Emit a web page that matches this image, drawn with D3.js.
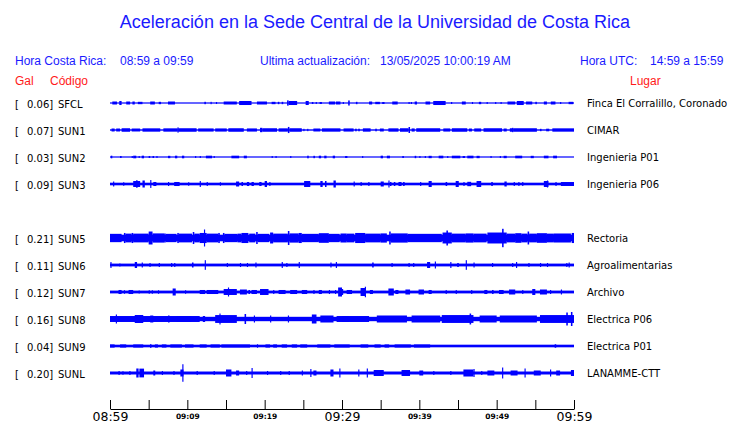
<!DOCTYPE html>
<html><head><meta charset="utf-8">
<script src="https://cdn.jsdelivr.net/npm/d3@7"></script>
<style>html,body{margin:0;padding:0;background:#fff;}svg{display:block;}</style>
</head><body>
<script>
// ---------- data ----------
const titleText = "Aceleración en la Sede Central de la Universidad de Costa Rica";
const localRange = "08:59 a 09:59";
const utcRange = "14:59 a 15:59";
const updated = "13/05/2025 10:00:19 AM";
const codes = ["SFCL","SUN1","SUN2","SUN3","SUN4","SUN5","SUN6","SUN7","SUN8","SUN9","SUNL"];
const peaks = {SFCL:0.06,SUN1:0.07,SUN2:0.03,SUN3:0.09,SUN5:0.21,SUN6:0.11,SUN7:0.12,SUN8:0.16,SUN9:0.04,SUNL:0.20};
const places = {SFCL:"Finca El Corralillo, Coronado",SUN1:"CIMAR",SUN2:"Ingenieria P01",SUN3:"Ingenieria P06",SUN5:"Rectoria",SUN6:"Agroalimentarias",SUN7:"Archivo",SUN8:"Electrica P06",SUN9:"Electrica P01",SUNL:"LANAMME-CTT"};
// background noise half-amplitude (Gal)
const baseAmp = {SFCL:0.008,SUN1:0.016,SUN2:0.008,SUN3:0.03,SUN5:0.075,SUN6:0.032,SUN7:0.032,SUN8:0.05,SUN9:0.03,SUNL:0.034};
// bursts: [start minute, end minute, half-amplitude Gal]
const bursts = {
SFCL:[[0.3,0.9,.034],[1.2,1.5,.046],[2.1,2.6,.034],[2.9,3.2,.034],[3.6,4.2,.027],[5.2,5.8,.034],[6.3,6.6,.027],[7.5,8.4,.034],[12.2,12.4,.027],[13.0,13.15,.027],[13.7,13.85,.023],[14.7,16.4,.034],[16.7,18.3,.046],[19.0,20.3,.034],[20.9,21.4,.027],[21.7,21.9,.027],[22.2,22.4,.027],[22.9,23.1,.06],[23.1,24.2,.046],[25.3,25.7,.046],[26.1,26.3,.023],[26.6,26.75,.023],[27.1,27.4,.023],[28.3,29.1,.034],[29.2,29.8,.034],[30.1,30.25,.023],[30.8,31.0,.058],[31.8,32.0,.027],[33.5,33.9,.034],[34.3,34.9,.027],[35.2,35.5,.023],[36.5,37.2,.034],[38.6,38.75,.023],[38.9,39.05,.023],[39.4,39.7,.034],[40.8,41.4,.034],[41.8,43.4,.046],[44.1,44.25,.023],[45.5,46.0,.034],[46.8,46.95,.023],[47.7,48.0,.027],[48.7,48.85,.023],[49.8,49.95,.023],[50.5,50.65,.023],[51.4,52.4,.034],[52.6,53.5,.046],[53.8,54.6,.034],[55.0,55.2,.027],[56.1,56.5,.034],[57.0,57.6,.034],[58.2,58.35,.023],[59.3,59.9,.027]],
SUN1:[[0.2,0.6,.034],[0.8,1.3,.034],[1.5,2.6,.04],[2.8,3.9,.034],[4.2,6.5,.038],[6.9,8.7,.038],[8.7,8.9,.057],[8.9,11.2,.04],[11.4,13.4,.036],[13.6,15.1,.036],[15.3,17.3,.04],[17.7,19.0,.036],[19.4,19.7,.05],[19.7,21.6,.04],[21.8,23.0,.038],[23.0,23.2,.07],[23.2,24.8,.04],[25.0,25.15,.027],[25.5,25.65,.027],[26.3,27.2,.034],[27.4,29.8,.038],[30.2,31.5,.036],[31.7,31.9,.03],[32.1,32.3,.03],[32.7,33.7,.038],[34.3,34.5,.03],[34.9,35.4,.034],[36.0,37.3,.038],[37.5,38.6,.04],[38.6,38.8,.068],[39.0,39.4,.036],[39.6,42.7,.04],[43.1,44.0,.036],[44.2,46.2,.04],[46.4,46.8,.034],[47.1,48.0,.036],[48.3,50.7,.04],[50.9,51.3,.034],[51.7,52.2,.04],[52.0,52.15,.05],[52.2,55.2,.04],[55.6,55.8,.027],[56.4,56.8,.03],[57.2,60.0,.038]],
SUN2:[[0.1,0.3,.03],[1.3,1.5,.023],[2.8,2.95,.023],[3.0,3.4,.03],[3.7,3.85,.023],[4.1,4.4,.03],[5.0,5.2,.023],[5.5,5.7,.023],[6.0,6.15,.023],[7.5,7.8,.027],[8.4,8.7,.03],[9.3,9.6,.03],[11.0,11.15,.023],[11.6,11.75,.023],[12.4,13.2,.03],[13.4,13.55,.023],[15.7,16.7,.03],[17.3,17.7,.03],[20.9,21.05,.023],[21.4,21.55,.023],[23.3,23.45,.023],[25.5,25.7,.03],[26.3,26.5,.027],[27.0,27.3,.03],[27.7,28.0,.03],[28.8,29.1,.03],[30.4,30.7,.023],[32.6,32.75,.023],[35.0,35.3,.03],[35.8,36.2,.03],[37.8,38.0,.023],[39.4,39.6,.027],[40.0,40.15,.023],[40.7,40.85,.023],[41.2,41.6,.027],[42.5,43.1,.03],[43.6,43.75,.023],[44.2,45.3,.03],[45.6,45.9,.023],[46.2,47.0,.03],[47.4,47.8,.027],[49.2,49.35,.023],[50.4,50.55,.023],[50.9,51.3,.027],[52.4,53.3,.03],[54.4,54.8,.027],[56.1,56.7,.03],[57.3,57.8,.03]],
SUN3:[[0.4,0.55,.057],[1.7,1.85,.04],[3.0,3.9,.068],[3.4,3.55,.09],[4.2,4.5,.08],[5.2,5.35,.09],[5.6,6.0,.046],[7.5,7.65,.046],[8.3,9.0,.046],[10.1,10.25,.04],[11.6,11.75,.068],[12.5,12.65,.046],[14.2,14.35,.04],[16.3,16.7,.057],[17.0,17.2,.046],[17.7,18.0,.046],[18.3,18.6,.046],[19.3,19.6,.046],[20.0,20.3,.068],[20.6,20.75,.046],[25.1,25.9,.068],[27.2,27.5,.068],[27.8,28.0,.068],[28.9,29.2,.08],[31.5,31.65,.057],[32.4,32.55,.046],[33.4,33.55,.046],[35.0,35.4,.057],[36.0,36.15,.08],[36.2,36.4,.046],[36.7,36.9,.046],[37.3,37.7,.046],[37.9,38.1,.046],[40.1,40.25,.046],[41.2,41.6,.068],[43.4,43.6,.046],[44.7,45.1,.068],[45.7,45.85,.046],[46.2,46.7,.05],[47.4,48.0,.068],[49.3,49.5,.046],[51.0,51.3,.057],[52.2,52.35,.046],[52.8,52.95,.046],[53.3,53.45,.046],[56.1,56.7,.068],[56.5,56.65,.08],[57.6,57.75,.046],[58.3,60.0,.045]],
SUN5:[[0,1.5,.095],[1.8,2.0,.115],[2.0,2.8,.1],[2.8,3.0,.115],[3.0,5.0,.1],[5.0,5.5,.148],[5.5,7.0,.105],[7.0,7.2,.103],[7.2,8.6,.095],[8.7,8.9,.115],[8.9,10.6,.1],[10.7,10.9,.137],[10.9,11.6,.1],[11.6,12.5,.115],[12.15,12.3,.194],[12.5,14.0,.1],[14.0,14.2,.115],[14.6,14.8,.115],[14.8,16.5,.095],[16.5,17.0,.1],[17.0,17.9,.115],[18.0,18.8,.1],[18.9,19.1,.137],[19.1,20.6,.095],[20.7,21.1,.125],[21.1,23.0,.1],[23.0,23.2,.16],[23.2,24.4,.105],[24.4,24.8,.115],[24.8,27.0,.095],[27.0,28.3,.11],[28.3,29.7,.095],[29.8,30.6,.103],[30.6,31.6,.1],[31.7,33.0,.115],[33.0,35.0,.1],[35.0,35.8,.105],[36.1,36.3,.148],[36.3,38.5,.105],[38.5,42.9,.095],[43.0,44.2,.125],[43.5,43.7,.171],[44.2,46.0,.1],[46.0,47.0,.105],[47.0,48.7,.1],[48.8,51.3,.125],[50.7,50.9,.21],[51.3,52.4,.1],[52.4,53.2,.11],[53.2,54.0,.1],[54.0,54.2,.148],[54.2,55.2,.1],[55.2,56.5,.11],[56.5,57.4,.1],[57.4,59.6,.103],[59.7,60.0,.115]],
SUN6:[[0.05,0.2,.068],[1.2,1.35,.034],[3.2,3.5,.068],[4.1,4.25,.057],[5.1,5.25,.046],[6.3,6.45,.046],[7.9,8.05,.046],[8.3,8.45,.046],[10.6,10.8,.057],[12.25,12.4,.11],[15.1,15.25,.046],[16.8,16.95,.046],[17.7,17.85,.046],[18.8,18.95,.057],[22.2,22.35,.068],[22.8,22.95,.046],[24.4,24.55,.068],[28.5,28.65,.057],[29.2,29.35,.068],[33.9,34.1,.057],[36.4,36.55,.046],[38.6,38.75,.046],[39.2,39.35,.046],[41.0,41.4,.068],[42.0,42.15,.08],[44.0,44.15,.068],[44.9,45.1,.046],[46.0,46.15,.11],[47.0,47.15,.057],[49.4,49.55,.046],[52.0,52.15,.046],[52.5,52.65,.068],[54.1,54.25,.046],[55.6,55.75,.046],[56.5,56.65,.046],[59.0,59.15,.046],[59.3,59.45,.057]],
SUN7:[[1.1,1.5,.046],[1.8,1.95,.04],[2.4,3.0,.046],[3.7,3.85,.034],[5.0,5.15,.04],[5.4,5.55,.04],[6.2,6.35,.04],[8.1,8.5,.08],[9.7,9.85,.04],[11.6,12.3,.046],[12.5,14.0,.046],[14.7,16.4,.068],[15.25,15.4,.103],[16.8,17.7,.057],[17.9,18.1,.046],[18.3,19.0,.046],[19.4,20.5,.068],[21.1,21.25,.046],[21.8,22.7,.046],[23.3,24.2,.046],[24.8,25.5,.046],[26.3,26.45,.046],[27.0,27.4,.046],[28.3,28.45,.046],[29.1,29.25,.046],[29.5,30.0,.103],[30.0,30.15,.068],[30.6,31.3,.046],[32.4,33.0,.091],[32.95,33.1,.12],[33.6,34.0,.046],[36.0,36.7,.08],[36.9,37.3,.046],[38.2,38.8,.057],[39.9,40.6,.057],[41.2,41.6,.046],[43.4,43.55,.046],[44.7,44.85,.046],[46.7,46.85,.046],[48.4,48.8,.046],[49.4,49.6,.046],[50.3,50.9,.046],[51.6,52.4,.057],[53.3,53.45,.046],[54.6,55.0,.068],[55.6,56.5,.057],[56.9,57.05,.046],[58.3,58.45,.057]],
SUN8:[[0,10.5,.068],[0.75,0.9,.103],[3.2,4.3,.091],[5.2,5.6,.08],[7.5,7.7,.08],[8.6,11.6,.068],[12.0,12.3,.068],[13.6,16.4,.09],[14.15,14.3,.125],[17.4,17.6,.114],[18.6,18.75,.08],[20.7,20.85,.08],[23.0,23.15,.08],[26.1,26.7,.103],[27.2,28.9,.08],[29.3,30.9,.068],[30.0,33.5,.068],[34.5,38.4,.08],[39.0,42.7,.08],[42.9,47.0,.09],[46.5,46.7,.125],[47.8,50.0,.08],[50.4,55.2,.08],[55.6,60.0,.09],[59.0,59.2,.148],[59.6,59.8,.16]],
SUN9:[[0.0,0.6,.036],[1.3,2.1,.036],[3.0,4.3,.036],[5.2,5.35,.046],[5.8,6.2,.036],[6.7,7.3,.036],[7.8,9.3,.036],[9.7,10.8,.036],[11.6,12.5,.036],[13.0,14.2,.036],[14.4,18.1,.036],[19.0,19.15,.04],[20.1,20.7,.036],[21.1,21.6,.036],[22.2,22.9,.036],[23.5,24.2,.036],[24.6,25.5,.036],[26.8,28.5,.036],[29.0,31.0,.036],[32.4,33.4,.036],[34.2,35.0,.036],[35.5,36.1,.036],[36.8,38.9,.036],[39.3,41.4,.036],[57.5,57.7,.04]],
SUNL:[[1.1,1.25,.046],[1.6,1.75,.04],[2.5,2.65,.046],[3.4,3.7,.103],[3.8,4.4,.1],[5.6,5.85,.057],[6.7,6.85,.046],[8.2,8.35,.046],[9.1,9.5,.08],[9.35,9.5,.2],[11.2,11.35,.046],[13.4,13.55,.046],[15.0,15.7,.08],[16.3,16.7,.057],[17.6,17.75,.046],[18.3,18.45,.114],[20.3,20.45,.046],[22.0,22.15,.046],[23.1,23.25,.046],[24.8,24.95,.057],[25.9,26.05,.091],[26.3,26.7,.057],[28.5,28.9,.08],[29.65,29.8,.103],[32.1,32.25,.08],[33.2,33.35,.103],[34.1,35.4,.068],[37.7,38.8,.068],[40.0,40.5,.057],[41.8,41.95,.046],[44.0,44.15,.046],[45.7,47.0,.08],[47.0,47.15,.091],[48.0,48.15,.046],[48.8,49.7,.057],[50.7,50.85,.125],[51.8,52.7,.057],[53.6,53.75,.103],[54.8,55.7,.057],[56.9,57.05,.08],[57.7,58.2,.057],[59.6,60.0,.068]]
};
const tickMinutes = [0,5,10,15,20,25,30,35,40,45,50,55,60];
const tickLabels = ["08:59","","09:09","","09:19","","09:29","","09:39","","09:49","","09:59"];
const majorLabels = ["08:59","09:29","09:59"];

// ---------- drawing ----------
const W = 740, H = 423;
const BLUE = "#0000ff", TXTBLUE = "#1a1aff", RED = "#ff1a1a";
const svg = d3.select("body").append("svg").attr("width", W).attr("height", H);
svg.append("rect").attr("width", W).attr("height", H).attr("fill", "#fff");

const x = d3.scaleLinear().domain([0, 60]).range([110, 574]);
const y = d3.scalePoint().domain(codes).range([103, 373]);
const amp = d3.scaleLinear().domain([0, 0.21]).range([0, 9.2]);

const sans = "'Liberation Sans', Arial, sans-serif";
const dv = "'DejaVu Sans', sans-serif";

svg.append("text").attr("x", 375).attr("y", 28).attr("text-anchor", "middle")
  .attr("font-family", sans).attr("font-size", 18).attr("fill", TXTBLUE).text(titleText);

const hdr = [
  {t:"Hora Costa Rica:", x:15}, {t:localRange, x:120},
  {t:"Ultima actualización:", x:260}, {t:updated, x:380},
  {t:"Hora UTC:", x:580}, {t:utcRange, x:650}
];
svg.selectAll("text.hdr").data(hdr).join("text").attr("class","hdr")
  .attr("x", d => d.x).attr("y", 65).attr("font-family", sans).attr("font-size", 12)
  .attr("fill", TXTBLUE).text(d => d.t);

const red = [{t:"Gal", x:15}, {t:"Código", x:50}, {t:"Lugar", x:630}];
svg.selectAll("text.red").data(red).join("text").attr("class","red")
  .attr("x", d => d.x).attr("y", 84.5).attr("font-family", sans).attr("font-size", 12)
  .attr("fill", RED).text(d => d.t);

const active = codes.filter(c => peaks[c] !== undefined);
const g = svg.selectAll("g.trace").data(active).join("g").attr("class","trace")
  .attr("transform", c => `translate(0,${y(c)})`);

// baseline noise band
g.append("rect").attr("x", x(0)).attr("width", x(60) - x(0))
  .attr("y", c => -Math.max(amp(baseAmp[c]), 0.6))
  .attr("height", c => 2 * Math.max(amp(baseAmp[c]), 0.6))
  .attr("fill", BLUE);
// bursts
g.selectAll("rect.b").data(c => bursts[c]).join("rect").attr("class","b")
  .attr("x", d => x(d[0])).attr("width", d => Math.max(x(d[1]) - x(d[0]), 1))
  .attr("y", d => -amp(d[2])).attr("height", d => 2 * amp(d[2]))
  .attr("fill", BLUE);

// left labels
g.append("text").attr("x", 15).attr("y", 4.5).attr("font-family", dv).attr("font-size", 10).attr("fill", "#000").text("[");
g.append("text").attr("x", 27).attr("y", 4.5).attr("font-family", dv).attr("font-size", 10).attr("fill", "#000")
  .text(c => d3.format(".2f")(peaks[c]) + "]");
g.append("text").attr("x", 58).attr("y", 4.5).attr("font-family", dv).attr("font-size", 10).attr("fill", "#000").text(c => c);
// right labels
g.append("text").attr("x", 587).attr("y", 4).attr("font-family", dv).attr("font-size", 10).attr("fill", "#000").text(c => places[c]);

// axis
const axis = d3.axisBottom(x).tickValues(tickMinutes)
  .tickFormat((d, i) => tickLabels[i]).tickSizeInner(-9).tickSizeOuter(0).tickPadding(3);
const ag = svg.append("g").attr("transform", "translate(0,409)").call(axis);
ag.select(".domain").attr("stroke", "#000").attr("stroke-width", 1);
ag.selectAll(".tick line").attr("stroke", "#000").attr("stroke-width", 1);
ag.selectAll(".tick text").attr("fill", "#000").attr("font-family", dv).attr("dy", null)
  .each(function(d, i) {
    const lab = tickLabels[i];
    const big = majorLabels.includes(lab);
    d3.select(this).attr("font-size", big ? 12.5 : 7.5).attr("font-weight", big ? "normal" : "bold")
      .attr("y", big ? 11.5 : 10);
  });
</script>
</body></html>
